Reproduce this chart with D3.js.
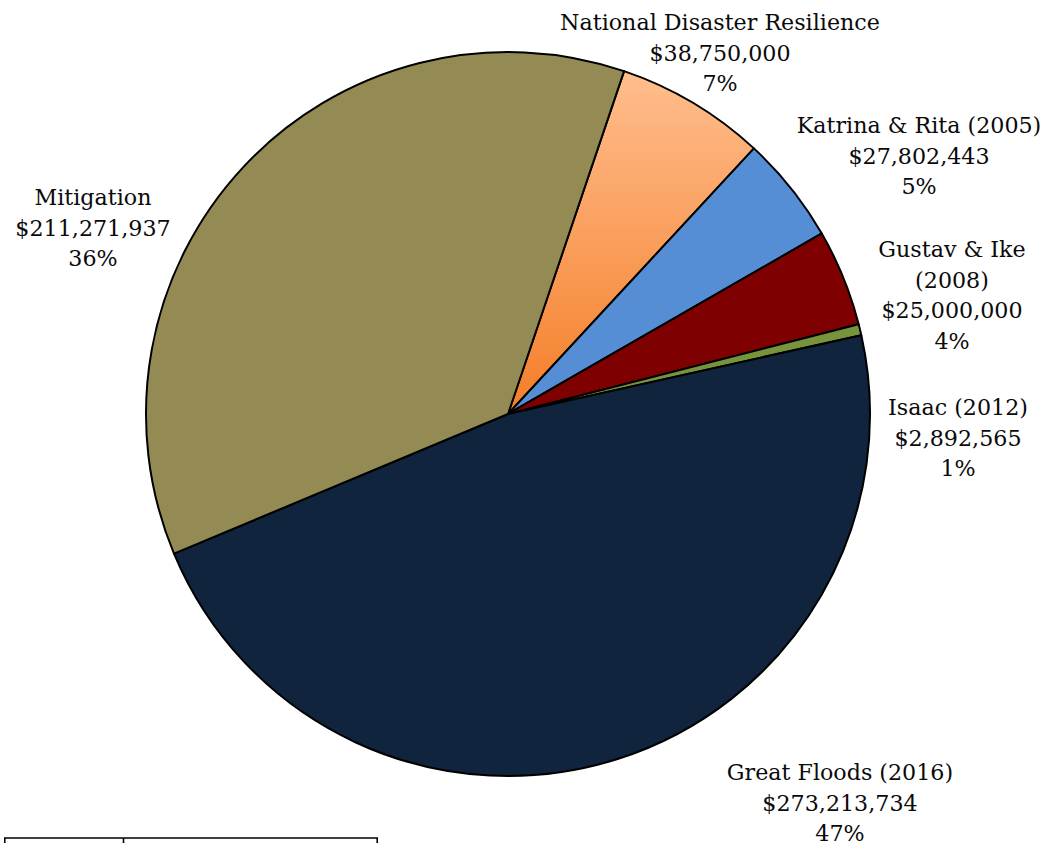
<!DOCTYPE html>
<html>
<head>
<meta charset="utf-8">
<script src="https://cdn.jsdelivr.net/npm/d3@7"></script>
<style>
  html, body { margin: 0; padding: 0; background: #fff; }
  svg { display: block; }
  text { font-family: "DejaVu Serif", "Liberation Serif", serif; fill: #0a0a0a; }
</style>
</head>
<body>
<svg id="chart" width="1050" height="843"></svg>
<script>
// Funding by program
const categories = [
  "National Disaster Resilience",
  "Katrina & Rita (2005)",
  "Gustav & Ike (2008)",
  "Isaac (2012)",
  "Great Floods (2016)",
  "Mitigation"
];
const amounts = [38750000, 27802443, 25000000, 2892565, 273213734, 211271937];
const percentLabels = ["7%", "5%", "4%", "1%", "47%", "36%"];
// label text lines (category name may wrap)
const nameLines = [
  ["National Disaster Resilience"],
  ["Katrina & Rita (2005)"],
  ["Gustav & Ike", "(2008)"],
  ["Isaac (2012)"],
  ["Great Floods (2016)"],
  ["Mitigation"]
];
const colors = ["url(#ndrGrad)", "#558ED5", "#7F0000", "#77933C", "#10243E", "#948B54"];

const svg = d3.select("#chart");
const cx = 508, cy = 414, r = 362;

const defs = svg.append("defs");
// vertical orange gradient, in the pie group's coordinates (origin at centre)
const grad = defs.append("linearGradient")
  .attr("id", "ndrGrad").attr("gradientUnits", "userSpaceOnUse")
  .attr("x1", 0).attr("y1", -r * 0.95).attr("x2", 0).attr("y2", 0);
grad.append("stop").attr("offset", "0%").attr("stop-color", "#FFBE8E");
grad.append("stop").attr("offset", "100%").attr("stop-color", "#F47E28");

const data = categories.map((c, i) => ({ name: c, value: amounts[i], i }));

const pie = d3.pie()
  .value(d => d.value)
  .sort(null)
  .startAngle(18.7 * Math.PI / 180)
  .endAngle(18.7 * Math.PI / 180 + 2 * Math.PI);

const arc = d3.arc().innerRadius(0).outerRadius(r);

const g = svg.append("g").attr("transform", `translate(${cx},${cy})`);
g.selectAll("path")
  .data(pie(data))
  .join("path")
  .attr("d", arc)
  .attr("fill", d => colors[d.data.i])
  .attr("stroke", "#000")
  .attr("stroke-width", 2)
  .attr("stroke-linejoin", "round");

// label anchor positions (centre x, first baseline y)
const labelPos = [
  [720, 30], [919, 133], [952, 257], [958, 415], [840, 780], [93, 205]
];
const fmt = d3.format(",");
const lineH = 30.5;

data.forEach((d, i) => {
  const lines = nameLines[i].concat(["$" + fmt(d.value), percentLabels[i]]);
  const t = svg.append("text")
    .attr("text-anchor", "middle")
    .attr("font-size", 22.2);
  lines.forEach((s, k) => {
    t.append("tspan")
      .attr("x", labelPos[i][0])
      .attr("y", labelPos[i][1] + k * lineH)
      .text(s);
  });
});

// top border of the table that follows the chart
const tbl = svg.append("g").attr("stroke", "#000").attr("stroke-width", 1.6);
tbl.append("line").attr("x1", 4).attr("x2", 378).attr("y1", 838).attr("y2", 838);
[4.8, 123.5, 377.2].forEach(x => {
  tbl.append("line").attr("x1", x).attr("x2", x).attr("y1", 838).attr("y2", 843);
});
</script>
</body>
</html>
